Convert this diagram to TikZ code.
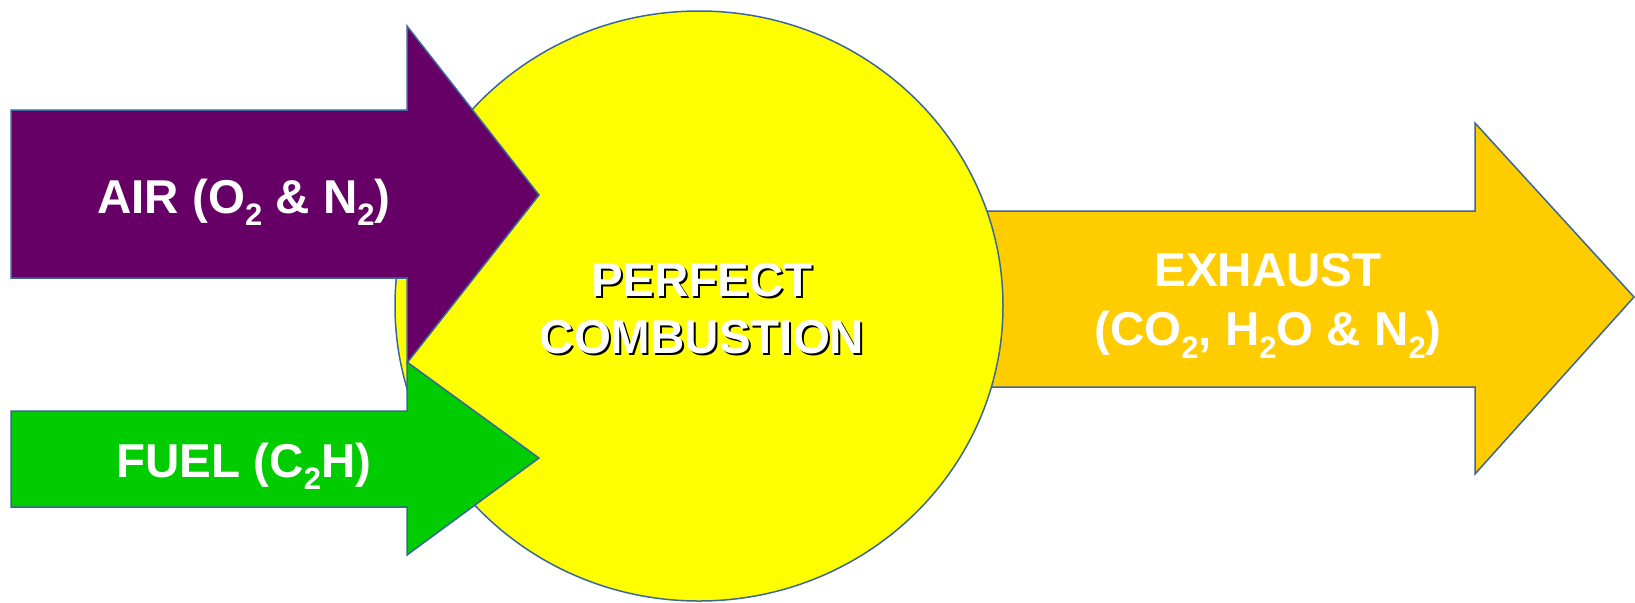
\documentclass[tikz,border=0pt]{standalone}
\usepackage{fontspec}
\setmainfont{Liberation Sans}
\usepackage{tikz}

\definecolor{airpurple}{HTML}{660066}
\definecolor{fuelgreen}{HTML}{00CC00}
\definecolor{flameyellow}{HTML}{FFFF00}
\definecolor{exhaustorange}{HTML}{FFCC00}
\definecolor{edgeblue}{HTML}{3A679A}

\newcommand{\chemsub}[1]{\raisebox{-0.26em}{\fontsize{15.5}{15.5}\selectfont #1}}

\begin{document}
\begin{tikzpicture}[x=0.5pt, y=-0.5pt,
    outline/.style={draw=edgeblue, line width=0.75pt, line join=miter},
    bigtext/.style={inner sep=0pt, align=center, font=\fontsize{23.75}{28.5}\selectfont\bfseries}]
  \useasboundingbox (0,0) rectangle (1635,602);

  % Exhaust arrow (behind the circle)
  \draw[outline, fill=exhaustorange] (980,211) -- (1475,211) -- (1475,123) -- (1634,297)
      -- (1475,474) -- (1475,387) -- (980,387) -- cycle;

  % Combustion circle
  \draw[outline, fill=flameyellow] (699,306) ellipse [x radius=304, y radius=295];

  % Air arrow
  \draw[outline, fill=airpurple] (11,110) -- (407,110) -- (407,26) -- (539,195)
      -- (407,363) -- (407,278) -- (11,278) -- cycle;

  % Fuel arrow
  \draw[outline, fill=fuelgreen] (11,411) -- (407,411) -- (407,362) -- (539,458)
      -- (407,555) -- (407,507) -- (11,507) -- cycle;

  % Labels
  \node[bigtext, text=white, anchor=base] (air) at (244,213) {AIR (O\chemsub{2} \& N\chemsub{2})};
  \node[bigtext, text=white, anchor=base] (fuel) at (244,477) {FUEL (C\chemsub{2}H)};

  \node[bigtext, text=black] (shadow) at (704,311) {PERFECT\\COMBUSTION};
  \node[bigtext, text=white] (perfect) at (702,309) {PERFECT\\COMBUSTION};

  \node[bigtext, text=white, font=\fontsize{23.75}{29.5}\selectfont\bfseries] (exhaust) at (1268,306)
      {EXHAUST\\(CO\chemsub{2}, H\chemsub{2}O \& N\chemsub{2})};
\end{tikzpicture}
\end{document}
